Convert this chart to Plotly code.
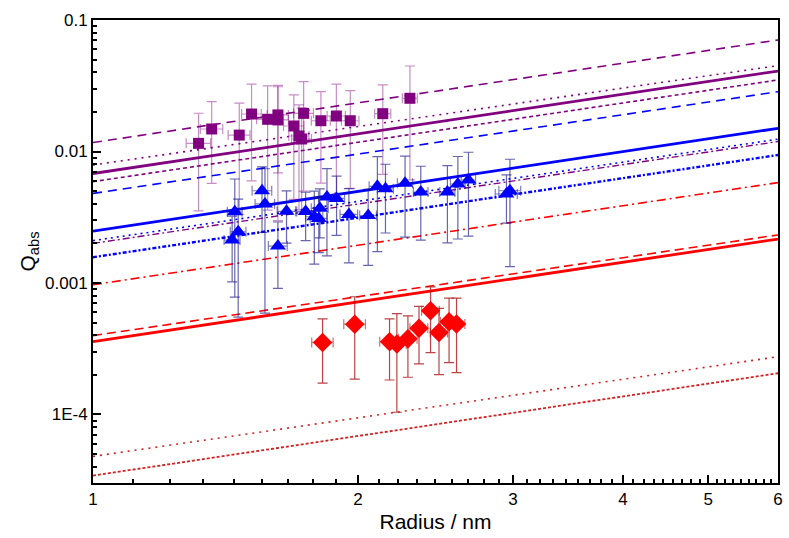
import plotly.graph_objects as go

# ---------------- data ----------------
# Purple squares
sq_r = [1.318, 1.364, 1.466, 1.514, 1.579, 1.622, 1.622, 1.691, 1.714, 1.726, 1.735,
        1.815, 1.890, 1.960, 2.134, 2.291]
sq_q = [0.01153, 0.01483, 0.01333, 0.01928, 0.01758, 0.01897, 0.01738, 0.01563, 0.01312,
        0.01245, 0.0195, 0.01714, 0.01862, 0.01714, 0.01939, 0.02539]
sq_qerr = [0.0080, 0.0091, 0.0100, 0.0133, 0.0140, 0.0121, 0.0144, 0.0113, 0.0095,
           0.0090, 0.0145, 0.0114, 0.0139, 0.0119, 0.0127, 0.0193]
sq_rerr = [0.042, 0.040, 0.042, 0.039, 0.045, 0.045, 0.045, 0.045, 0.045, 0.045, 0.045,
           0.045, 0.045, 0.045, 0.045, 0.045]

# Blue triangles
tr_r = [1.449, 1.462, 1.439, 1.556, 1.568, 1.622, 1.659, 1.744, 1.784, 1.810, 1.805, 1.844,
        1.891, 1.953, 2.054, 2.104, 2.149, 2.262, 2.357, 2.527, 2.597, 2.670, 2.949, 2.976]
tr_q = [0.00348, 0.00245, 0.00212, 0.00503, 0.00399, 0.00191, 0.00351, 0.00350, 0.00319,
        0.00370, 0.00310, 0.00451, 0.00440, 0.00332, 0.00326, 0.00543, 0.00520, 0.00573,
        0.00492, 0.00492, 0.00566, 0.00607, 0.00475, 0.00503]
tr_qerr = [0.0027, 0.0019, 0.0011, 0.0026, 0.0034, 0.0010, 0.0015, 0.0014, 0.0018,
           0.0015, 0.0014, 0.0029, 0.0021, 0.0019, 0.0019, 0.0037, 0.0028, 0.0035,
           0.0028, 0.0029, 0.0035, 0.0038, 0.0019, 0.0037]
tr_rerr = [0.028, 0.030, 0.030, 0.040, 0.040, 0.040, 0.040, 0.040, 0.040, 0.040, 0.040, 0.040,
           0.040, 0.045, 0.045, 0.045, 0.045, 0.045, 0.045, 0.050, 0.050, 0.050, 0.085, 0.085]

# Red diamonds
di_r = [1.823, 1.983, 2.172, 2.214, 2.279, 2.346, 2.418, 2.472, 2.538, 2.588]
di_q = [3.53e-4, 4.86e-4, 3.58e-4, 3.44e-4, 3.77e-4, 4.53e-4, 6.15e-4, 4.21e-4, 5.08e-4, 4.88e-4]
di_qerr = [1.8e-4, 3.0e-4, 1.75e-4, 2.4e-4, 1.85e-4, 2.1e-4, 3.2e-4, 2.2e-4, 2.6e-4, 2.8e-4]
di_rerr = [0.051, 0.056, 0.055, 0.055, 0.055, 0.055, 0.056, 0.056, 0.057, 0.057]

# Model lines (values at radius 1 nm and 6 nm)
line_r = [1.0, 6.0]
purple_longdash = [0.0117, 0.0705]
purple_dot = [0.0079, 0.0450]
purple_solid = [0.0068, 0.0409]
purple_shortdash = [0.0059, 0.0350]
purple_dashdot = [0.0020, 0.0119]
blue_longdash = [0.0048, 0.0285]
blue_solid = [0.00248, 0.0150]
blue_dot = [0.0021, 0.0124]
blue_dashdot = [0.00157, 0.0094]
red_dashdot = [0.00097, 0.0058]
red_dash = [0.000398, 0.00232]
red_solid = [0.000358, 0.00216]
red_dot = [4.8e-5, 2.75e-4]
red_shortdash = [3.43e-5, 2.06e-4]

x_ticks = [1, 2, 3, 4, 5, 6]
y_ticks = [1e-4, 1e-3, 1e-2, 1e-1]
y_tick_text = ["1E-4", "0.001", "0.01", "0.1"]

# ---------------- figure ----------------
PURPLE = "#800080"
BLUE = "#0000FF"
RED = "#FF0000"
DRED = "#D42020"

fig = go.Figure()

lines = [
    (purple_longdash, PURPLE, 1.6, "9px,6px"),
    (purple_dot, PURPLE, 1.6, "2px,5px"),
    (purple_solid, PURPLE, 2.8, "solid"),
    (purple_shortdash, PURPLE, 1.6, "4px,3px"),
    (blue_longdash, BLUE, 1.6, "9px,6px"),
    (purple_dashdot, PURPLE, 1.4, "7px,3px,2px,3px"),
    (blue_dot, BLUE, 1.6, "2px,4px"),
    (blue_solid, BLUE, 2.8, "solid"),
    (blue_dashdot, BLUE, 2.4, "4px,2px,2px,2px"),
    (red_dashdot, RED, 1.6, "9px,4px,2px,4px"),
    (red_dash, RED, 1.6, "9px,5px"),
    (red_solid, RED, 2.8, "solid"),
    (red_dot, DRED, 1.6, "2px,5px"),
    (red_shortdash, DRED, 1.8, "3px,2px"),
]
for ys, col, w, dash in lines:
    fig.add_trace(go.Scatter(x=line_r, y=ys, mode="lines",
                             line=dict(color=col, width=w, dash=dash),
                             showlegend=False, hoverinfo="skip"))

fig.add_trace(go.Scatter(
    x=sq_r, y=sq_q, mode="markers",
    marker=dict(symbol="square", size=11, color=PURPLE),
    error_y=dict(type="data", array=sq_qerr, color="rgba(128,0,128,0.45)", thickness=1.2, width=5),
    error_x=dict(type="data", array=sq_rerr, color="rgba(128,0,128,0.45)", thickness=1.2, width=5),
    showlegend=False))

fig.add_trace(go.Scatter(
    x=tr_r, y=tr_q, mode="markers",
    marker=dict(symbol="triangle-up", size=14, color=BLUE),
    error_y=dict(type="data", array=tr_qerr, color="rgba(20,20,130,0.65)", thickness=1.2, width=5),
    error_x=dict(type="data", array=tr_rerr, color="rgba(20,20,130,0.55)", thickness=1.2, width=5),
    showlegend=False))

fig.add_trace(go.Scatter(
    x=di_r, y=di_q, mode="markers",
    marker=dict(symbol="diamond", size=15, color=RED),
    error_y=dict(type="data", array=di_qerr, color="rgba(170,20,20,0.8)", thickness=1.2, width=5),
    error_x=dict(type="data", array=di_rerr, color="rgba(170,20,20,0.6)", thickness=1.2, width=5),
    showlegend=False))

# minor tick positions
x_minor = []
for a in range(1, 6):
    for k in range(1, 9):
        x_minor.append(a + k / 9.0)
y_minor = []
for e in (1e-5, 1e-4, 1e-3, 1e-2):
    for k in range(2, 10):
        y_minor.append(k * e)

font_family = "Liberation Sans, Arial, sans-serif"

fig.update_layout(
    width=789, height=538,
    margin=dict(l=93, r=6, t=20, b=55),
    paper_bgcolor="white", plot_bgcolor="white",
    font=dict(family=font_family, color="black", size=17),
    xaxis=dict(
        type="log", range=[0, 0.77815],
        tickvals=x_ticks, ticktext=[str(v) for v in x_ticks],
        ticks="inside", ticklen=8, tickwidth=2, tickcolor="black",
        minor=dict(tickvals=x_minor, ticks="inside", ticklen=4, tickwidth=1.5,
                   tickcolor="black", showgrid=False),
        showline=True, linecolor="black", linewidth=2, mirror=True,
        showgrid=False, zeroline=False,
        tickfont=dict(size=17),
        title=dict(text="Radius / nm", font=dict(size=21), standoff=6),
    ),
    yaxis=dict(
        type="log", range=[-4.521, -1],
        tickvals=y_ticks, ticktext=y_tick_text,
        ticks="inside", ticklen=8, tickwidth=2, tickcolor="black",
        minor=dict(tickvals=y_minor, ticks="inside", ticklen=4, tickwidth=1.5,
                   tickcolor="black", showgrid=False),
        showline=True, linecolor="black", linewidth=2, mirror=True,
        showgrid=False, zeroline=False,
        tickfont=dict(size=17),
        title=dict(text="Q<sub>abs</sub>", font=dict(size=21), standoff=4),
    ),
)

fig.write_html("out.html")
